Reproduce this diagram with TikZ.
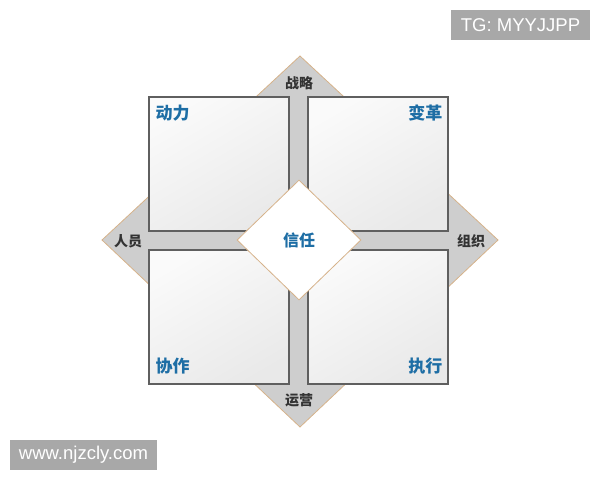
\documentclass[tikz,border=0pt]{standalone}
\usepackage{fontspec}
\newfontfamily\cjk{Noto Sans CJK SC}
\setsansfont{Liberation Sans}
\usetikzlibrary{shapes.geometric}
\definecolor{tan}{RGB}{214,178,138}
\definecolor{pale}{RGB}{206,206,206}
\definecolor{labelblue}{RGB}{30,110,165}
\definecolor{framegray}{RGB}{95,95,95}
\definecolor{markgray}{RGB}{168,168,168}
\begin{document}
\begin{tikzpicture}[x=1pt,y=-1pt,
square_style/.style={rectangle,draw=framegray,line width=1.2pt,minimum width=140pt,minimum height=134pt,
  inner sep=0pt,left color=gray!4,right color=gray!17,shading angle=30},
corner_style/.style={font=\cjk\bfseries\fontsize{17}{17}\selectfont,text=labelblue,inner sep=0pt},
side_style/.style={font=\cjk\bfseries\fontsize{14}{14}\selectfont,text=black!80,inner sep=0pt},
center_style/.style={diamond,draw=tan,line width=0.8pt,fill=white,minimum width=124pt,minimum height=120pt,
  aspect=1.03,inner sep=0pt,font=\cjk\bfseries\fontsize{16}{16}\selectfont,text=labelblue},
mark_style/.style={fill=markgray,text=white,font=\sffamily\fontsize{18.5}{18.5}\selectfont,inner sep=0pt}]
\useasboundingbox (0,0) rectangle (600,480);
% outer diamond
\coordinate (top) at (300,56);
\coordinate (right) at (498,240);
\coordinate (bottom) at (300,427);
\coordinate (left) at (102,240);
\draw[tan,fill=pale,line width=0.8pt] (top) -- (right) -- (bottom) -- (left) -- cycle;
% four squares
\node[square_style] (q1) at (219,164) {};
\node[square_style] (q2) at (378,164) {};
\node[square_style] (q3) at (219,317) {};
\node[square_style] (q4) at (378,317) {};
\node[corner_style,anchor=north west] (dongli) at ([xshift=7pt,yshift=-8pt]q1.north west) {动力};
\node[corner_style,anchor=north east] (biange) at ([xshift=-6pt,yshift=-8pt]q2.north east) {变革};
\node[corner_style,anchor=south west] (xiezuo) at ([xshift=7pt,yshift=10pt]q3.south west) {协作};
\node[corner_style,anchor=south east] (zhixing) at ([xshift=-6pt,yshift=10pt]q4.south east) {执行};
% side labels
\node[side_style] (zhanlue) at (299,83) {战略};
\node[side_style] (renyuan) at (128,241) {人员};
\node[side_style] (zuzhi) at (471,241) {组织};
\node[side_style] (yunying) at (299,400) {运营};
% centre
\node[center_style] (xinren) at (299,240) {信任};
% watermarks
\node[mark_style,minimum width=139pt,minimum height=30pt] (tg) at (520.5,25) {TG: MYYJJPP};
\node[mark_style,minimum width=147pt,minimum height=30pt] (site) at (83.5,455) {www.njzcly.com};
\end{tikzpicture}
\end{document}
